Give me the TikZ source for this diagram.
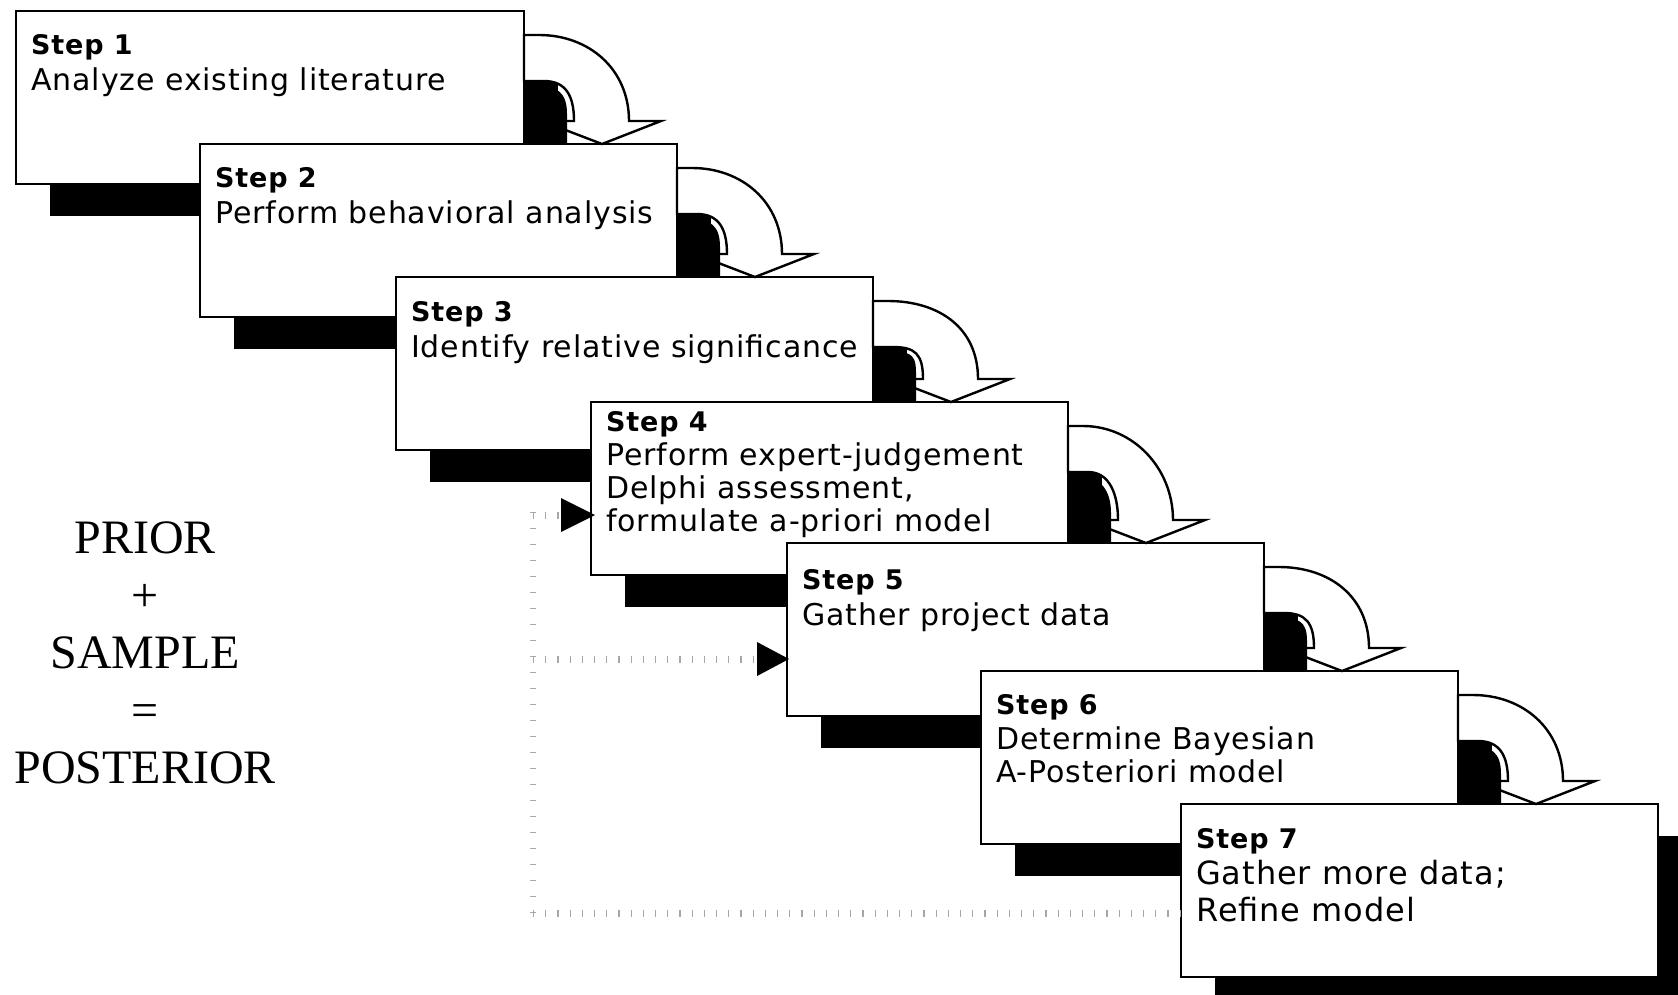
\documentclass[tikz,border=0pt]{standalone}
\usepackage{fontspec}
\setmainfont{Liberation Serif}
\newfontfamily\boxfont[LetterSpace=3]{DejaVu Sans}
\usetikzlibrary{calc,shadows}
\newcommand{\steparrow}[2]{%
  \coordinate (#1a) at (#1.north east);
  \coordinate (#1b) at (#2.north -| #1.north east);
  \draw[arrowshape] ($(#1a)+(0,24)$) -- ($(#1a)+(15,24)$)
     .. controls ($(#1a)+(65,24)$) and ($(#1b)+(105,-75)$) .. ($(#1b)+(105,-23)$)
     -- ($(#1b)+(137,-23)$) -- ($(#1b)+(78,0)$) -- ($(#1b)+(18,-23)$) -- ($(#1b)+(50,-23)$)
     .. controls ($(#1b)+(50,-48)$) and ($(#1a)+(42,70)$) .. ($(#1a)+(20,70)$)
     -- ($(#1a)+(0,70)$) -- cycle;
  \fill[blob] ($(#1a)+(0,74)$) -- ($(#1a)+(15,74)$)
     .. controls ($(#1a)+(33,76)$) and ($(#1b)+(43,-52)$) .. ($(#1b)+(43,-30)$)
     -- ($(#1b)+(43,-1)$) -- ($(#1b)+(0,-1)$) -- cycle;
}
\newcommand{\ttl}[1]{{\fontsize{27}{33}\selectfont\bfseries #1}}
\begin{document}
\begin{tikzpicture}[x=1pt,y=-1pt,
  stepbox/.style={draw=black, line width=2.6pt, fill=white, minimum width=477pt,
    minimum height=173pt, anchor=north west, inner sep=0pt, outer sep=0pt,
    general shadow={fill=black, shadow xshift=34pt, shadow yshift=-32pt}},
  steptext/.style={anchor=north west, align=left, inner sep=0pt,
    font=\boxfont\fontsize{30}{33}\selectfont},
  arrowshape/.style={draw=black, line width=2.4pt, fill=white, line join=miter},
  blob/.style={fill=black},
  hticks/.style={draw=black!35, line width=7pt, dash pattern=on 1.2pt off 11pt},
  vticks/.style={draw=black!35, line width=6pt, dash pattern=on 1.2pt off 14.8pt},
  tri/.style={fill=black},
  eqtext/.style={align=center, inner sep=0pt, font=\fontsize{48}{57.5}\selectfont}
]
\useasboundingbox[fill=white] (0,0) rectangle (1678,994);

\node[stepbox, minimum width=508pt] (s1) at (16,11) {};
\node[steptext] (t1) at ($(s1.north west)+(15,23)$) {\ttl{Step 1}\\[3pt]Analyze existing literature};

\node[stepbox] (s2) at (200,144) {};
\node[steptext] (t2) at ($(s2.north west)+(15,23)$) {\ttl{Step 2}\\[3pt]Perform behavioral analysis};
\steparrow{s1}{s2}

\node[stepbox] (s3) at (396,277) {};
\node[steptext] (t3) at ($(s3.north west)+(15,24)$) {\ttl{Step 3}\\[3pt]Identify relative significance};
\steparrow{s2}{s3}

\node[stepbox] (s4) at (591,402) {};
\node[steptext] (t4) at ($(s4.north west)+(15,9)$) {\ttl{Step 4}\\[1pt]Perform expert-judgement\\Delphi assessment,\\formulate a-priori model};
\steparrow{s3}{s4}

\node[stepbox] (s5) at (787,543) {};
\node[steptext] (t5) at ($(s5.north west)+(15,26)$) {\ttl{Step 5}\\[3pt]Gather project data};
\steparrow{s4}{s5}

\node[stepbox] (s6) at (981,671) {};
\node[steptext] (t6) at ($(s6.north west)+(15,23)$) {\ttl{Step 6}\\[2pt]Determine Bayesian\\A-Posteriori model};
\steparrow{s5}{s6}

\node[stepbox] (s7) at (1181,804) {};
\node[steptext, font=\boxfont\fontsize{32}{37}\selectfont] (t7) at ($(s7.north west)+(15,24)$) {\ttl{Step 7}\\[-1pt]Gather more data;\\Refine model};
\steparrow{s6}{s7}

% feedback loop
\coordinate (fbT) at (533,515);
\coordinate (fbM) at (533,659);
\coordinate (fbB) at (533,913);
\draw[hticks] (fbB) -- (s7.west |- fbB);
\draw[vticks] (fbB) -- ($(fbT)+(0,-8)$);
\draw[hticks] (fbT) -- ($(s4.west |- fbT)+(-30,0)$);
\draw[hticks] (fbM) -- ($(s5.west |- fbM)+(-30,0)$);
\fill[tri] ($(s4.west |- fbT)+(-30,-17)$) -- ($(s4.west |- fbT)+(4,0)$) -- ($(s4.west |- fbT)+(-30,17)$) -- cycle;
\fill[tri] ($(s5.west |- fbM)+(-30,-17)$) -- ($(s5.west |- fbM)+(2,0)$) -- ($(s5.west |- fbM)+(-30,17)$) -- cycle;

\node[eqtext] (eq) at (145,653) {PRIOR\\+\\SAMPLE\\=\\POSTERIOR};
\end{tikzpicture}
\end{document}
